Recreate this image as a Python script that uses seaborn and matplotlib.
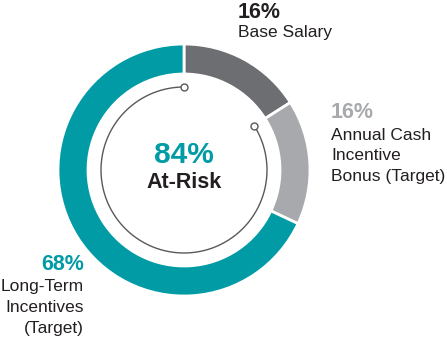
import numpy as np
import matplotlib
matplotlib.use("Agg")
import matplotlib.pyplot as plt
import seaborn as sns

# Data
categories = ["Base Salary", "Annual Cash\nIncentive\nBonus (Target)", "Long-Term\nIncentives\n(Target)"]
values = [16, 16, 68]
pct_labels = ["16%", "16%", "68%"]
at_risk_value = 84
at_risk_label = "At-Risk"

sns.set_theme(style="white")
plt.rcParams['font.family'] = ['Liberation Sans', 'DejaVu Sans']

colors = ["#6d6e71", "#a7a9ac", "#009ba4"]
text_dark = "#231f20"

W, H = 447, 342
fig = plt.figure(figsize=(W / 100, H / 100), dpi=100)
ax = fig.add_axes([0, 0, 1, 1])

cx, cy = 184, H - 170
R = 126
ax.pie(values, colors=colors, startangle=90, counterclock=False,
       center=(cx, cy), radius=R, frame=True,
       wedgeprops=dict(width=30, edgecolor="white", linewidth=2))
ax.set_xlim(0, W)
ax.set_ylim(0, H)
ax.set_aspect("equal")
ax.axis("off")

# thin at-risk arc
r_arc = 83
span = at_risk_value / 100 * 360
th = np.deg2rad(np.linspace(90, 90 + span, 300))
ax.plot(cx + r_arc * np.cos(th), cy + r_arc * np.sin(th), color="#58595b", lw=1.0, zorder=5)
ends = np.deg2rad([90, 90 + span])
ax.plot(cx + r_arc * np.cos(ends), cy + r_arc * np.sin(ends), "o", ms=5,
        mfc="white", mec="#58595b", mew=1.0, zorder=6)

# center text
ax.text(cx, H - 155, f"{at_risk_value}%", ha="center", va="center", fontsize=21.5,
        fontweight="bold", color=colors[2])
ax.text(cx, H - 183, at_risk_label, ha="center", va="center", fontsize=15.5,
        fontweight="bold", color=text_dark)

PCT_FS = 15.5
LBL_FS = 12.5
STEP = 20.7


def label_block(x, y_pct, y_first, pct, pct_color, text, ha):
    ax.text(x, H - y_pct, pct, ha=ha, va="center", fontsize=PCT_FS,
            fontweight="bold", color=pct_color)
    for i, line in enumerate(text.split("\n")):
        ax.text(x, H - (y_first + i * STEP), line, ha=ha, va="center",
                fontsize=LBL_FS, color=text_dark)


label_block(238, 12, 33, pct_labels[0], text_dark, categories[0], "left")
label_block(331, 112, 135, pct_labels[1], colors[1], categories[1], "left")
label_block(84, 265, 287, pct_labels[2], colors[2], categories[2], "right")

fig.savefig("out.png", dpi=100)
